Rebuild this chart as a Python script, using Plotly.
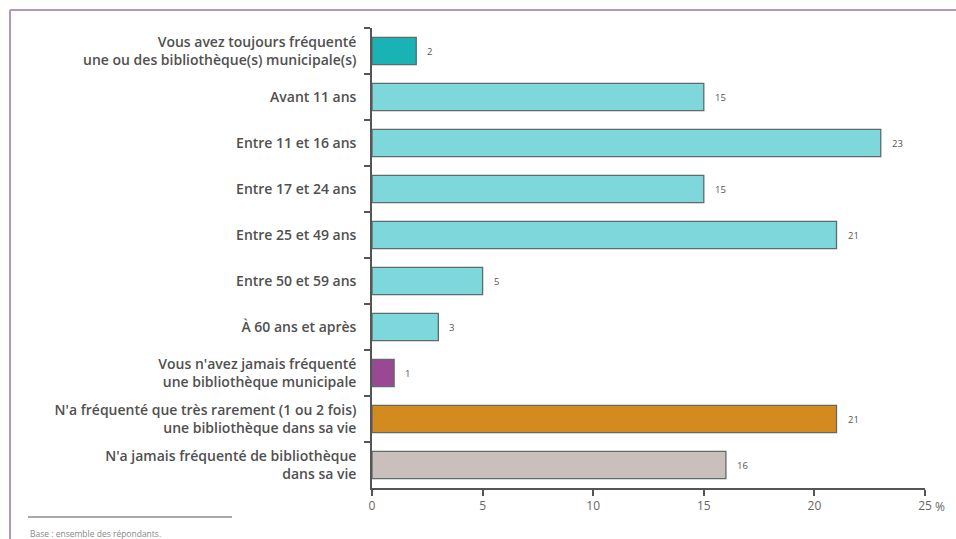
import plotly.graph_objects as go

categories = [
    "Vous avez toujours fréquenté<br>une ou des bibliothèque(s) municipale(s)",
    "Avant 11 ans",
    "Entre 11 et 16 ans",
    "Entre 17 et 24 ans",
    "Entre 25 et 49 ans",
    "Entre 50 et 59 ans",
    "À 60 ans et après",
    "Vous n'avez jamais fréquenté<br>une bibliothèque municipale",
    "N'a fréquenté que très rarement (1 ou 2 fois)<br>une bibliothèque dans sa vie",
    "N'a jamais fréquenté de bibliothèque<br>dans sa vie",
]
values = [2, 15, 23, 15, 21, 5, 3, 1, 21, 16]
colors = ["#19B3B6", "#7DD7DB", "#7DD7DB", "#7DD7DB", "#7DD7DB", "#7DD7DB", "#7DD7DB",
          "#9A4893", "#D38B1F", "#C9C0BD"]
tick_vals = [0, 5, 10, 15, 20, 25]
tick_text = ["0", "5", "10", "15", "20", "25"]

FONT = "Open Sans"
TXT = "#505050"

fig = go.Figure()
fig.add_trace(go.Bar(
    y=categories, x=values, orientation="h",
    marker=dict(color=colors, line=dict(color="#5f6a6a", width=1.3)),
    hoverinfo="skip",
))

# value labels to the right of each bar
for cat, v in zip(categories, values):
    fig.add_annotation(x=v, y=cat, xref="x", yref="y", text=str(v),
                       xanchor="left", xshift=9, showarrow=False,
                       font=dict(family=FONT, size=9.5, color="#555"))

fig.update_layout(
    width=956, height=539, autosize=False,
    margin=dict(l=372, r=31, t=28, b=51),
    paper_bgcolor="white", plot_bgcolor="white",
    bargap=0.41, showlegend=False,
    font=dict(family=FONT, color=TXT),
)
fig.update_xaxes(
    range=[0, 25], tickvals=tick_vals, ticktext=tick_text,
    showgrid=False, zeroline=False,
    showline=True, linecolor="#555", linewidth=1.5,
    ticks="outside", ticklen=6, tickcolor="#555", tickwidth=1.5,
    tickfont=dict(family=FONT, size=12, color="#666"),
)
fig.update_yaxes(
    autorange="reversed", showgrid=False, zeroline=False,
    showline=True, linecolor="#555", linewidth=1.5,
    ticks="outside", ticklen=6, tickcolor="#555", tickwidth=1.5,
    tickson="boundaries", ticklabelstandoff=11,
    tickfont=dict(family=FONT, size=14, color=TXT, weight=600),
)

# "%" after last x tick
fig.add_annotation(x=25, y=0, xref="x", yref="paper", yanchor="middle",
                   yshift=-18, xshift=15, xanchor="center",
                   text="%", showarrow=False, font=dict(family=FONT, size=12, color="#666"))

# frame lines (left and top)
fig.add_shape(type="line", xref="paper", yref="paper",
              x0=-362/553, x1=-362/553, y0=1 + 18/460, y1=-51/460 - 0.01,
              line=dict(color="#b497b4", width=2))
fig.add_shape(type="line", xref="paper", yref="paper",
              x0=-362/553, x1=1 + 31/553, y0=1 + 18/460, y1=1 + 18/460,
              line=dict(color="#b497b4", width=2))
# footnote rule and text
fig.add_shape(type="line", xref="paper", yref="paper",
              x0=-344/553, x1=-140/553, y0=-29/460, y1=-29/460,
              line=dict(color="#555", width=1))
fig.add_annotation(x=-344/553, y=-45/460, xref="paper", yref="paper",
                   xanchor="left", yanchor="middle", showarrow=False,
                   text="Base : ensemble des répondants.",
                   font=dict(family=FONT, size=8.5, color="#888"))

fig.write_html("out.html")
